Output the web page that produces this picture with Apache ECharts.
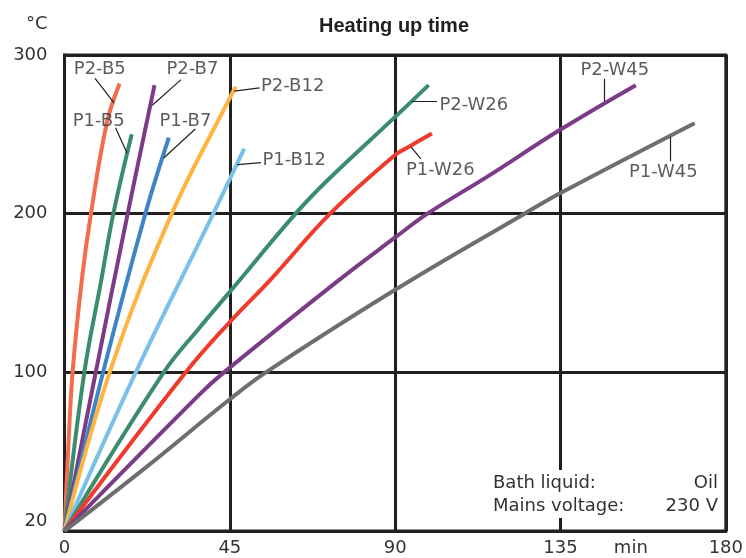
<!DOCTYPE html>
<html>
<head>
<meta charset="utf-8">
<script src="https://cdn.jsdelivr.net/npm/echarts@6/dist/echarts.min.js"></script>
<style>
  html, body { margin: 0; padding: 0; background: #fff; }
  #chart { width: 746px; height: 558px; }
</style>
</head>
<body>
<div id="chart"></div>
<script>
// time in min, temperature in degC (axis bottom is drawn as 20)
const xTicks = [0, 45, 90, 135, 180];
const yTicks = [0, 100, 200, 300];

const p2b5  = [[0, 0], [1, 51], [2.2, 100], [4.7, 158], [7.2, 200], [11.5, 257], [15, 282]];
const p1b5  = [[0, 0], [5.4, 100], [10, 158], [13.3, 200], [18.3, 250]];
const p2b7  = [[0, 0], [8.5, 100], [17.2, 200], [24.5, 281]];
const p1b7  = [[0, 0], [10.5, 100], [22, 200], [28.4, 248]];
const p2b12 = [[0, 0], [12.3, 100], [29.2, 200], [44.8, 272], [46.6, 280]];
const p1b12 = [[0, 0], [19.4, 100], [40.5, 200], [48.9, 241]];
const p2w26 = [[0, 0], [27, 100], [36.7, 128], [45.1, 151], [62.9, 200], [71.8, 221.5], [90, 261], [99.1, 281]];
const p1w26 = [[0, 0], [33, 100], [45.1, 132], [55.9, 158], [72.3, 200], [90, 237], [94, 242.5], [100, 250.5]];
const p2w45 = [[0, 0], [36.7, 86], [43.4, 100], [74.6, 158], [90, 185], [98.8, 200], [115.2, 223.5], [135, 253], [155.5, 281]];
const p1w45 = [[0, 0], [21.3, 38.5], [45, 83], [54.8, 100], [90, 152], [125.2, 200], [135, 213], [171.5, 257]];

const curveNames = ['P2-B5', 'P1-B5', 'P2-B7', 'P1-B7', 'P2-B12', 'P1-B12', 'P2-W26', 'P1-W26', 'P2-W45', 'P1-W45'];
const curveData = [p2b5, p1b5, p2b7, p1b7, p2b12, p1b12, p2w26, p1w26, p2w45, p1w45];
const curveColors = ['#f36c4f', '#3b8c6e', '#7b3b87', '#3d85c6', '#fdb441', '#7bc0ea', '#3b8c6e', '#ef3b2d', '#7b3b87', '#6d6e70'];

// label positions [t, temp, text]
const labelPoints = [
  [9.6, 290.9, 'P2-B5'], [34.8, 290.9, 'P2-B7'], [9.3, 258.4, 'P1-B5'], [32.9, 258.4, 'P1-B7'],
  [62.1, 280.3, 'P2-B12'], [62.5, 233.6, 'P1-B12'], [111.4, 268.1, 'P2-W26'], [102.3, 227.3, 'P1-W26'],
  [149.8, 290.2, 'P2-W45'], [163, 226.1, 'P1-W45']
];
// leader lines from label to curve
const leaders = [
  [[8.3, 285.2], [13.5, 269.8]], [[31.7, 284.5], [23.9, 268.3]], [[13.9, 254.1], [17, 238.3]],
  [[35.6, 253.4], [27, 235.1]], [[53.1, 279.3], [46.2, 277.2]], [[53.5, 232.2], [47, 230.9]],
  [[101.4, 270.9], [94.6, 270.9]], [[97, 234.5], [94.3, 242.1]], [[146.8, 285], [146.8, 270.9]],
  [[164.9, 233], [164.9, 248.4]]
];

const ink = '#231f20';
const txt = '#333333';
const font = 'DejaVu Sans, Liberation Sans, sans-serif';

const chart = echarts.init(document.getElementById('chart'));

const series = curveData.map((d, i) => ({
  name: curveNames[i],
  type: 'line',
  data: d,
  smooth: 0.4,
  showSymbol: false,
  lineStyle: { width: 4, color: curveColors[i], cap: 'butt' },
  z: 3
}));

series.push({
  type: 'lines',
  coordinateSystem: 'cartesian2d',
  data: leaders.map(l => ({ coords: l })),
  lineStyle: { color: ink, width: 1.2, opacity: 1 },
  symbol: 'none',
  z: 4
});

series.push({
  type: 'scatter',
  data: labelPoints,
  symbolSize: 0,
  label: {
    show: true,
    position: 'inside',
    formatter: p => p.value[2],
    color: txt,
    fontSize: 18,
    fontFamily: font
  },
  z: 5
});

chart.setOption({
  animation: false,
  backgroundColor: '#fff',
  title: {
    text: 'Heating up time',
    left: 314,
    top: 11,
    textStyle: { fontFamily: 'Liberation Sans Narrow, Arial Narrow, sans-serif', fontWeight: 'bold', fontSize: 20, color: ink }
  },
  grid: {
    left: 64.5, right: 16, top: 55, bottom: 27,
    show: true, borderColor: ink, borderWidth: 3
  },
  xAxis: {
    type: 'value', min: xTicks[0], max: xTicks[xTicks.length - 1], interval: 45,
    name: 'min', nameLocation: 'end', nameGap: -95,
    nameTextStyle: { align: 'center', verticalAlign: 'top', padding: [8, 0, 0, 0], fontSize: 18, color: txt, fontFamily: font },
    axisLine: { lineStyle: { color: ink, width: 3 } },
    axisTick: { show: false },
    splitLine: { lineStyle: { color: ink, width: 3 } },
    axisLabel: { margin: 8, fontSize: 18, color: txt, fontFamily: font }
  },
  yAxis: {
    type: 'value', min: yTicks[0], max: yTicks[yTicks.length - 1], interval: 100,
    name: '°C', nameLocation: 'end', nameGap: 22,
    nameTextStyle: { align: 'right', padding: [0, 17, 0, 0], fontSize: 18, color: txt, fontFamily: font },
    axisLine: { lineStyle: { color: ink, width: 3 } },
    axisTick: { show: false },
    splitLine: { lineStyle: { color: ink, width: 3 } },
    axisLabel: {
      margin: 17, fontSize: 18, color: txt, fontFamily: font,
      formatter: v => v === 0 ? '{low|20}' : String(v),
      rich: { low: { fontSize: 18, color: txt, fontFamily: font, padding: [0, 0, 20, 0] } }
    }
  },
  graphic: [
    { type: 'rect', left: 489, top: 470, shape: { width: 234, height: 48 }, style: { fill: '#fff' }, z: 10 },
    { type: 'text', left: 493, top: 474, z: 11, style: { text: 'Bath liquid:', fontSize: 18, fill: txt, fontFamily: font } },
    { type: 'text', right: 28, top: 474, z: 11, style: { text: 'Oil', fontSize: 18, fill: txt, fontFamily: font } },
    { type: 'text', left: 493, top: 497, z: 11, style: { text: 'Mains voltage:', fontSize: 18, fill: txt, fontFamily: font } },
    { type: 'text', right: 28, top: 497, z: 11, style: { text: '230 V', fontSize: 18, fill: txt, fontFamily: font } }
  ],
  series: series
});
</script>
</body>
</html>
